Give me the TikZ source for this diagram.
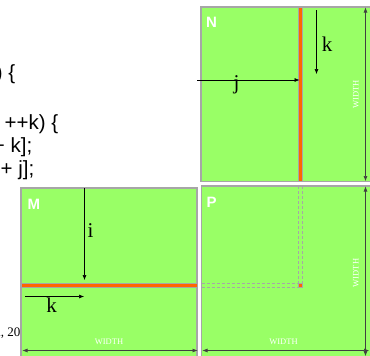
\documentclass[tikz,border=0pt]{standalone}
\usepackage{fontspec}
\setmainfont{Liberation Serif}
\setsansfont{Liberation Sans}
\usetikzlibrary{arrows.meta}
\definecolor{matgreen}{HTML}{99FF66}
\definecolor{matorange}{HTML}{FF6600}
\definecolor{matgray}{HTML}{A6A6A6}
\tikzset{
  matrixbox/.style={fill=matgreen, draw=matgray, line width=1.5pt},
  stripe/.style={fill=matorange, draw=matgray, line width=0.8pt},
  ghost/.style={draw=matgray, line width=0.8pt, dash pattern=on 3pt off 2pt},
  codeline/.style={font=\sffamily\fontsize{20.5}{24}\selectfont, anchor=base east, inner sep=0pt},
  matname/.style={font=\sffamily\bfseries\fontsize{15}{18}\selectfont, text=white, anchor=base west, inner sep=0pt},
  idxlabel/.style={font=\fontsize{21}{24}\selectfont, anchor=base, inner sep=0pt},
  widthlabel/.style={font=\fontsize{8.5}{10}\selectfont, text=white, inner sep=0pt},
  idxarrow/.style={draw=black, line width=0.6pt, -{Latex[length=5pt,width=4pt]}},
  widtharrow/.style={draw=black!75, line width=0.6pt, {Latex[length=5pt,width=4pt]}-{Latex[length=5pt,width=4pt]}},
}
\begin{document}
\begin{tikzpicture}[x=1pt, y=-1pt]
\useasboundingbox (0,0) rectangle (370,356);
\clip (0,0) rectangle (370,356);

% cut-off code text on the left
\node[codeline] (c1) at (15.5,79) {for (int j = 0; j < Width; ++j) \{};
\node[codeline] (c2) at (58.5,129) {for (int k = 0; k < Width; ++k) \{};
\node[codeline] (c3) at (32.5,152) {double a = M[i * width + k];};
\node[codeline] (c4) at (34.5,175) {double b = N[k * width + j];};
\node[font=\fontsize{13}{15}\selectfont, anchor=base east, inner sep=0pt] (cr) at (20.5,336) {Wen-mei W. Hwu, 20};

% matrices
\path[matrixbox] (201,7) rectangle (372,181.5);
\path[matrixbox] (21,188) rectangle (197,358);
\path[matrixbox] (201.5,186) rectangle (372,358);

% row of M and column of N
\path[stripe] (298.5,7) rectangle (302.5,181.5);
\path[stripe] (21,283) rectangle (197.5,287);

% projection in P
\path[ghost] (298.5,186) -- (298.5,283);
\path[ghost] (302.5,186) -- (302.5,283);
\path[ghost] (201.5,283) -- (298.5,283);
\path[ghost] (201.5,287) -- (298.5,287);
\path[stripe] (298.5,283) rectangle (302.5,287);

% names
\node[matname] (nN) at (206,27.3) {N};
\node[matname] (nM) at (27.5,209) {M};
\node[matname] (nP) at (206.5,207) {P};

% index arrows
\coordinate (j0) at (197,80);  \coordinate (j1) at (299.5,80);
\draw[idxarrow] (j0) -- (j1);
\node[idxlabel] (lj) at (236.5,89) {j};

\coordinate (kn0) at (316.5,10); \coordinate (kn1) at (316.5,74);
\draw[idxarrow] (kn0) -- (kn1);
\node[idxlabel] (lkn) at (327,51.5) {k};

\coordinate (i0) at (84.5,188); \coordinate (i1) at (84.5,280);
\draw[idxarrow] (i0) -- (i1);
\node[idxlabel] (li) at (90.5,237) {i};

\coordinate (km0) at (25,296.5); \coordinate (km1) at (84,296.5);
\draw[idxarrow] (km0) -- (km1);
\node[idxlabel] (lkm) at (51.5,312) {k};

% WIDTH dimension arrows
\coordinate (wn0) at (365.5,7.5); \coordinate (wn1) at (365.5,181);
\draw[widtharrow] (wn0) -- (wn1);
\node[widthlabel, rotate=90] (lwn) at (356,94.5) {WIDTH};

\coordinate (wm0) at (22.5,350.5); \coordinate (wm1) at (197.5,350.5);
\draw[widtharrow] (wm0) -- (wm1);
\node[widthlabel] (lwm) at (109,342) {WIDTH};

\coordinate (wp0) at (202.5,350.5); \coordinate (wp1) at (369,350.5);
\draw[widtharrow] (wp0) -- (wp1);
\node[widthlabel] (lwp) at (283.5,342) {WIDTH};

\coordinate (wq0) at (365.5,186.5); \coordinate (wq1) at (365.5,356);
\draw[widtharrow] (wq0) -- (wq1);
\node[widthlabel, rotate=90] (lwq) at (356,273) {WIDTH};
\end{tikzpicture}
\end{document}
